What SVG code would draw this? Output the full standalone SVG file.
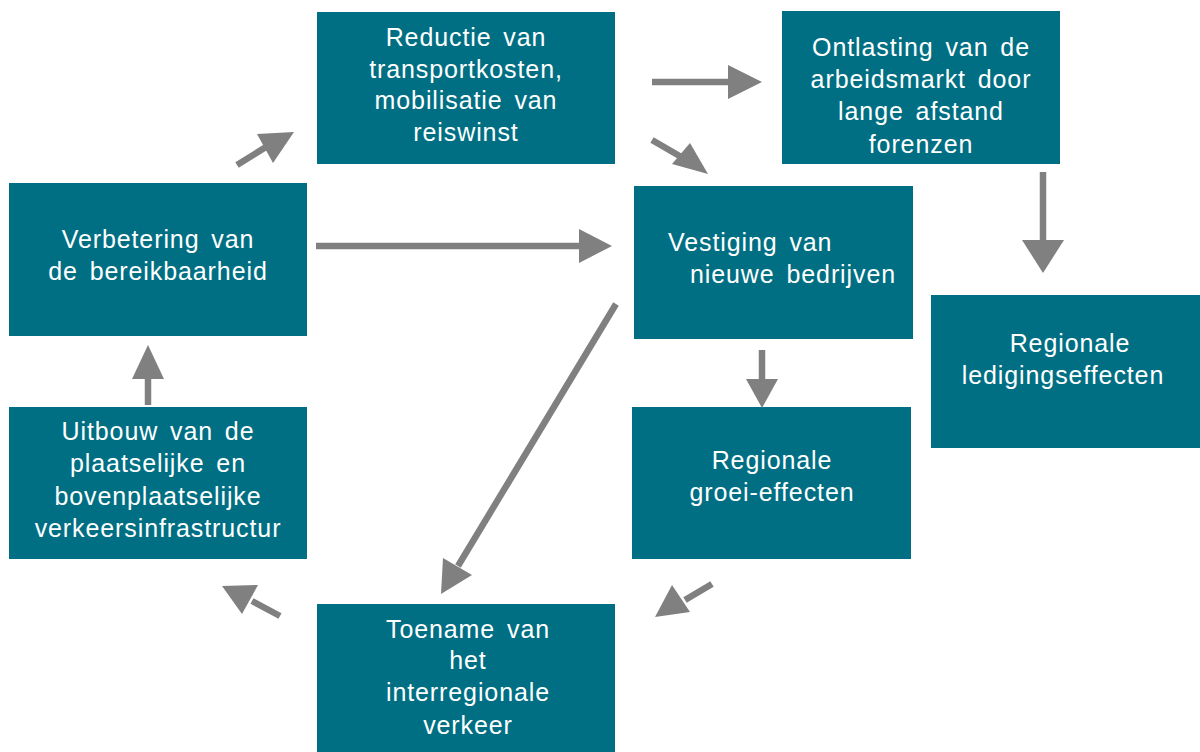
<svg xmlns="http://www.w3.org/2000/svg" width="1200" height="752" viewBox="0 0 1200 752">
<style>
.box{fill:#006F83}
.t{fill:#fff;font-family:"Liberation Sans",Arial,sans-serif;font-size:25px;letter-spacing:0.9px;text-anchor:middle;word-spacing:4px}
.s{fill:none;stroke:#808080;stroke-width:6.5}
.h{fill:#808080}
</style>
<rect width="1200" height="752" fill="#fff"/>
<g id="reductie"><rect class="box" x="317" y="12" width="298" height="152"/>
<text class="t"><tspan x="466" y="46">Reductie van</tspan><tspan x="466" y="78">transportkosten,</tspan><tspan x="466" y="109">mobilisatie van</tspan><tspan x="466" y="141">reiswinst</tspan></text></g>
<g id="ontlasting"><rect class="box" x="782" y="11" width="278" height="153"/>
<text class="t"><tspan x="921" y="56">Ontlasting van de</tspan><tspan x="921" y="88">arbeidsmarkt door</tspan><tspan x="921" y="120">lange afstand</tspan><tspan x="921" y="153">forenzen</tspan></text></g>
<g id="verbetering"><rect class="box" x="9" y="183" width="298" height="153"/>
<text class="t"><tspan x="158" y="248">Verbetering van</tspan><tspan x="158" y="280">de bereikbaarheid</tspan></text></g>
<g id="vestiging"><rect class="box" x="634" y="186" width="279" height="153"/>
<text class="t" style="text-anchor:start"><tspan x="668" y="251">Vestiging van</tspan><tspan x="690" y="283">nieuwe bedrijven</tspan></text></g>
<g id="lediging"><rect class="box" x="931" y="295" width="269" height="153"/>
<text class="t"><tspan x="1070" y="352">Regionale</tspan><tspan x="1063" y="384">ledigingseffecten</tspan></text></g>
<g id="uitbouw"><rect class="box" x="9" y="407" width="298" height="152"/>
<text class="t"><tspan x="158" y="440">Uitbouw van de</tspan><tspan x="158" y="472">plaatselijke en</tspan><tspan x="158" y="505">bovenplaatselijke</tspan><tspan x="158" y="537">verkeersinfrastructur</tspan></text></g>
<g id="groei"><rect class="box" x="632" y="407" width="279" height="152"/>
<text class="t"><tspan x="772" y="469">Regionale</tspan><tspan x="772" y="501">groei-effecten</tspan></text></g>
<g id="toename"><rect class="box" x="317" y="604" width="298" height="148"/>
<text class="t"><tspan x="468" y="638">Toename van</tspan><tspan x="468" y="669">het</tspan><tspan x="468" y="701">interregionale</tspan><tspan x="468" y="734">verkeer</tspan></text></g>
<g id="connectors">
<line class="s" x1="237" y1="165" x2="266" y2="147"/><polygon class="h" points="294,132 257,134 273,163"/>
<line class="s" x1="652" y1="82" x2="730" y2="82"/><polygon class="h" points="762,82 728,65 728,99"/>
<line class="s" x1="652" y1="140" x2="683" y2="158"/><polygon class="h" points="708,174 672,164 690,143"/>
<line class="s" x1="316" y1="246" x2="582" y2="246"/><polygon class="h" points="612,246 579,229 579,263"/>
<line class="s" x1="616" y1="304" x2="458" y2="566"/><polygon class="h" points="441,594 443,558 472,575"/>
<line class="s" x1="762" y1="350" x2="762" y2="382"/><polygon class="h" points="762,408 746,379 778,379"/>
<line class="s" x1="712" y1="584" x2="685" y2="600"/><polygon class="h" points="655,617 672,585 690,612"/>
<line class="s" x1="280" y1="616" x2="252" y2="601"/><polygon class="h" points="222,586 258,585 242,614"/>
<line class="s" x1="148" y1="405" x2="148" y2="376"/><polygon class="h" points="148,345 132,379 164,379"/>
<line class="s" x1="1043" y1="172" x2="1043" y2="243"/><polygon class="h" points="1043,273 1022,240 1064,240"/>
</g>
</svg>
